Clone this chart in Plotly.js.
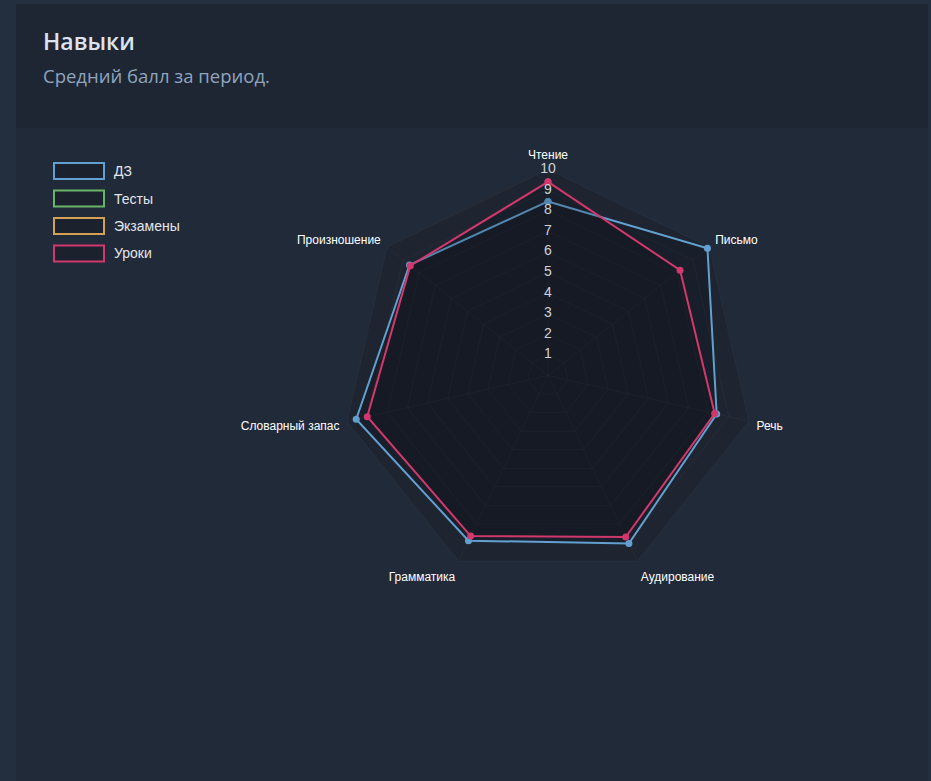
<!DOCTYPE html>
<html>
<head>
<meta charset="utf-8">
<script src="https://cdn.plot.ly/plotly-3.0.1.min.js"></script>
<style>
  html, body { margin:0; padding:0; width:931px; height:781px; background:#232e3f; overflow:hidden; }
  #header { position:absolute; left:16px; top:4px; width:912px; height:124px; background:#1e2633; }
  #panel { position:absolute; left:16px; top:128px; width:912px; height:653px; background:#212a39; }
  #title { position:absolute; left:27px; top:21px; font-family:"Open Sans", "Noto Sans", sans-serif; font-weight:600; font-size:23px; color:#dde3ee; }
  #subtitle { position:absolute; left:27px; top:59px; font-family:"Open Sans", "Noto Sans", sans-serif; font-size:18.5px; color:#8ea5bf; }
  #chart { position:absolute; left:0; top:0; width:931px; height:781px; }
</style>
</head>
<body>
<div id="header"><div id="title">Навыки</div><div id="subtitle">Средний балл за период.</div></div>
<div id="panel"></div>
<div id="chart"></div>
<script>
// ---- data ----
const categories = ['Чтение', 'Письмо', 'Речь', 'Аудирование', 'Грамматика', 'Словарный запас', 'Произношение'];
const seriesNames = ['ДЗ', 'Тесты', 'Экзамены', 'Уроки'];
const seriesColors = ['#62a0cf', '#6cb36a', '#d4a053', '#d2386c'];
const homeworkValues = [8.45, 9.9, 8.4, 9.05, 8.9, 9.55, 8.6];
const testsValues = [];
const examsValues = [];
const lessonsValues = [9.4, 8.2, 8.3, 8.7, 8.65, 9.0, 8.55];
const radialTicks = [1, 2, 3, 4, 5, 6, 7, 8, 9, 10];
const radialTickLabels = ['1', '2', '3', '4', '5', '6', '7', '8', '9', '10'];

const W = 931, H = 781;
const cx = 548, cy = 375.5, R = 206;

function closeLoop(arr) { return arr.length ? arr.concat([arr[0]]) : arr; }

const seriesValues = [homeworkValues, testsValues, examsValues, lessonsValues];
const traces = seriesNames.map((name, i) => ({
  type: 'scatterpolar',
  name: name,
  r: closeLoop(seriesValues[i]),
  theta: seriesValues[i].length ? closeLoop(categories) : [],
  mode: 'lines+markers',
  line: { color: seriesColors[i], width: 2 },
  marker: { color: seriesColors[i], size: 7 },
  fill: 'toself',
  fillcolor: 'rgba(5,8,14,0.17)',
  showlegend: false,
  hoverinfo: 'skip'
}));

traces.push({
  type: 'scatterpolar',
  r: radialTicks,
  theta: radialTicks.map(() => categories[0]),
  mode: 'text',
  text: radialTickLabels,
  textposition: 'middle center',
  textfont: { family: 'Liberation Sans, Arial, sans-serif', size: 14, color: '#cdd2da' },
  cliponaxis: false,
  showlegend: false,
  hoverinfo: 'skip'
});

// legend built from series names / colours
const shapes = [], annotations = [];
const legTop = 163, legStep = 27.5, boxL = 54, boxR = 104, boxH = 16;
seriesNames.forEach((name, i) => {
  const y0 = legTop + i * legStep;
  shapes.push({
    type: 'rect', xref: 'paper', yref: 'paper',
    x0: boxL / W, x1: boxR / W, y0: 1 - (y0 + boxH) / H, y1: 1 - y0 / H,
    line: { color: seriesColors[i], width: 2 }, fillcolor: '#1b222e'
  });
  annotations.push({
    xref: 'paper', yref: 'paper', x: 112 / W, y: 1 - (y0 + boxH / 2) / H,
    xanchor: 'left', yanchor: 'middle', showarrow: false, text: name,
    font: { family: 'Liberation Sans, Arial, sans-serif', size: 14, color: '#e2e6ec' }
  });
});

const layout = {
  width: W, height: H,
  margin: { l: 0, r: 0, t: 0, b: 0 },
  paper_bgcolor: 'rgba(0,0,0,0)',
  plot_bgcolor: 'rgba(0,0,0,0)',
  showlegend: false,
  shapes: shapes,
  annotations: annotations,
  polar: {
    domain: { x: [(cx - R) / W, (cx + R) / W], y: [1 - (cy + R) / H, 1 - (cy - R) / H] },
    bgcolor: '#1e2531',
    gridshape: 'linear',
    radialaxis: {
      range: [0, 10], tickvals: radialTicks, showticklabels: false, ticks: '',
      showline: false, gridcolor: 'rgba(255,255,255,0.03)', angle: 90
    },
    angularaxis: {
      type: 'category', categoryarray: categories, rotation: 90, direction: 'clockwise',
      ticks: 'outside', ticklen: 5, tickcolor: 'rgba(0,0,0,0)',
      showline: true, linecolor: 'rgba(255,255,255,0.035)',
      gridcolor: 'rgba(255,255,255,0.03)',
      tickfont: { family: 'Liberation Sans, Arial, sans-serif', size: 12, color: '#ffffff' }
    }
  }
};

Plotly.newPlot('chart', traces, layout, { displayModeBar: false, staticPlot: true });
</script>
</body>
</html>
